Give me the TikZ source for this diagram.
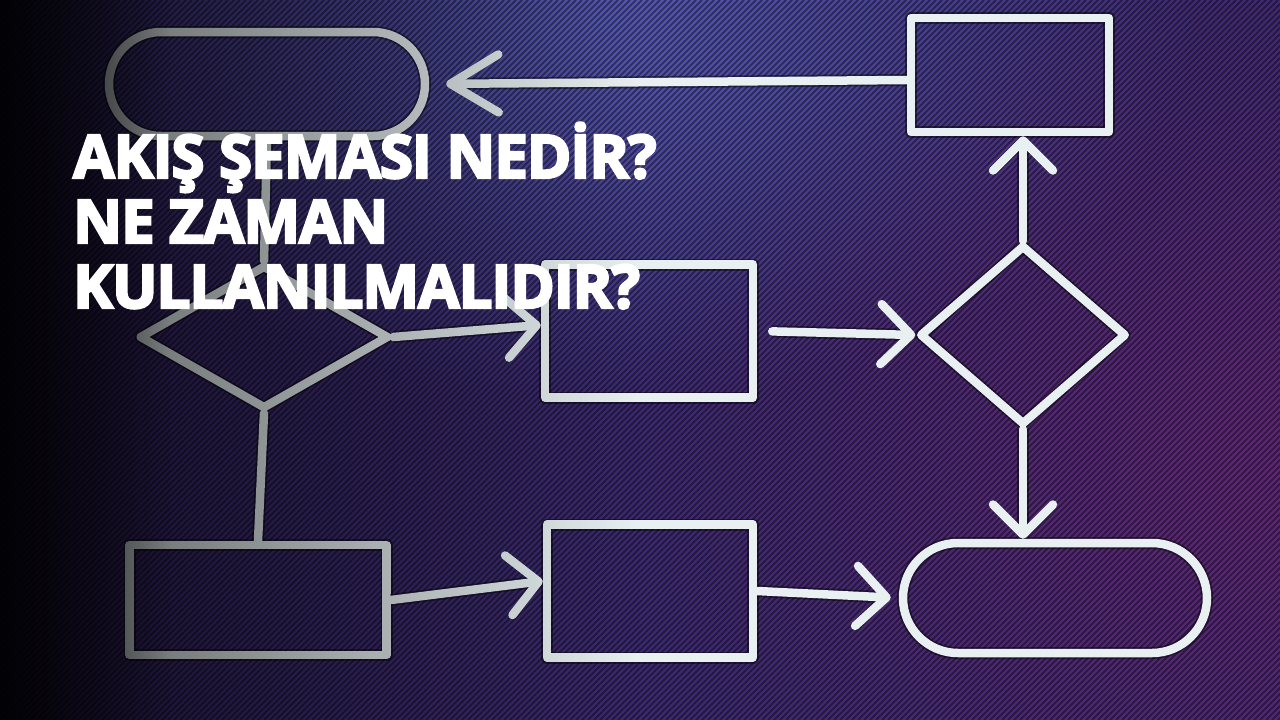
\documentclass[tikz,border=0pt]{standalone}
\usepackage{fontspec}
\setmainfont{Open Sans}
\newfontfamily\titlefont{Open Sans}[FakeBold=4, LetterSpace=-1.6]
\usetikzlibrary{shapes.geometric,shapes.misc,arrows.meta,fadings}
\definecolor{bgbase}{HTML}{3D2A74}
\definecolor{glowblue}{HTML}{5A62C4}
\definecolor{glowmag}{HTML}{6A2678}
\definecolor{chalkc}{HTML}{E8F0F2}
\tikzfading[name=fadeA, left color=transparent!35, right color=transparent!100]
\tikzfading[name=fadeB, left color=transparent!15, right color=transparent!100]
\tikzfading[name=glowfade, inner color=transparent!0, outer color=transparent!100]
\begin{document}
\begin{tikzpicture}[x=1pt,y=-1pt,
  chalk/.style={draw=chalkc, line width=8.5pt, line cap=round, line join=round,
    preaction={draw=black, opacity=0.45, line width=12pt}},
  box/.style={chalk, rectangle, inner sep=0pt},
  dec/.style={chalk, diamond, inner sep=0pt},
  term/.style={chalk, rounded rectangle, inner sep=0pt},
  link/.style={chalk},
  arr/.style={chalk, -{Straight Barb[round,length=30pt,width=60pt,line width=8.5pt]}},
  bigarr/.style={chalk, -{Straight Barb[round,length=48pt,width=58pt,line width=8.5pt]}},
  hatch/.style={black, opacity=0.42, line width=1.8pt},
  title/.style={text=white, font=\titlefont\fontsize{60}{60}\selectfont\bfseries, anchor=base west, inner sep=0pt}]
\useasboundingbox (0,0) rectangle (1280,720);
\begin{scope}
\clip (0,0) rectangle (1280,720);
% background
\fill[bgbase] (0,0) rectangle (1280,720);
\fill[glowblue, path fading=glowfade, opacity=0.85] (600,20) ellipse (600pt and 380pt);
\fill[glowmag, path fading=glowfade, opacity=0.8] (1280,470) ellipse (650pt and 520pt);
\foreach \i in {-720,-714,...,1280} {\draw[hatch] (\i,720) -- ({\i+720},0);}
% shapes
\node[term, minimum width=316pt, minimum height=104pt] (tl) at (267,84) {};
\node[box, minimum width=198pt, minimum height=114pt] (tr) at (1010,75) {};
\node[dec, minimum width=250pt, minimum height=144pt] (ld) at (264,337) {};
\node[box, minimum width=208pt, minimum height=133pt] (mid) at (649,331) {};
\node[dec, minimum width=207pt, minimum height=180pt] (rd) at (1023,335) {};
\node[box, minimum width=257pt, minimum height=110pt] (bl) at (258,600) {};
\node[box, minimum width=206pt, minimum height=133pt] (bm) at (650,591) {};
\node[term, minimum width=304pt, minimum height=110pt] (br) at (1055,598) {};
% connectors
\draw[bigarr, shorten >=17pt] ([yshift=-5pt]tr.west) -- (tl.east);
\draw[link] (tl.south) -- (ld.north);
\draw[arr] (ld.east) -- ([yshift=6pt]mid.west);
\draw[link] (ld.south) -- (bl.north);
\draw[arr] (bl.east) -- ([yshift=10pt]bm.west);
\draw[arr, shorten >=8pt] (bm.east) -- (br.west);
\draw[arr, shorten <=15pt] (mid.east) -- (rd.west);
\draw[arr] (rd.north) -- (rd.north |- tr.south);
\draw[arr] (rd.south) -- (rd.south |- br.north);
% vignette
\fill[black, path fading=fadeA] (0,0) rectangle (640,720);
\fill[black, path fading=fadeB] (0,0) rectangle (170,720);
\end{scope}
% title
\node[title] (t1) at (73,178) {AKIŞ ŞEMASI NEDİR?};
\node[title] (t2) at (73,243) {NE ZAMAN};
\node[title] (t3) at (73,308) {KULLANILMALIDIR?};
\end{tikzpicture}
\end{document}
